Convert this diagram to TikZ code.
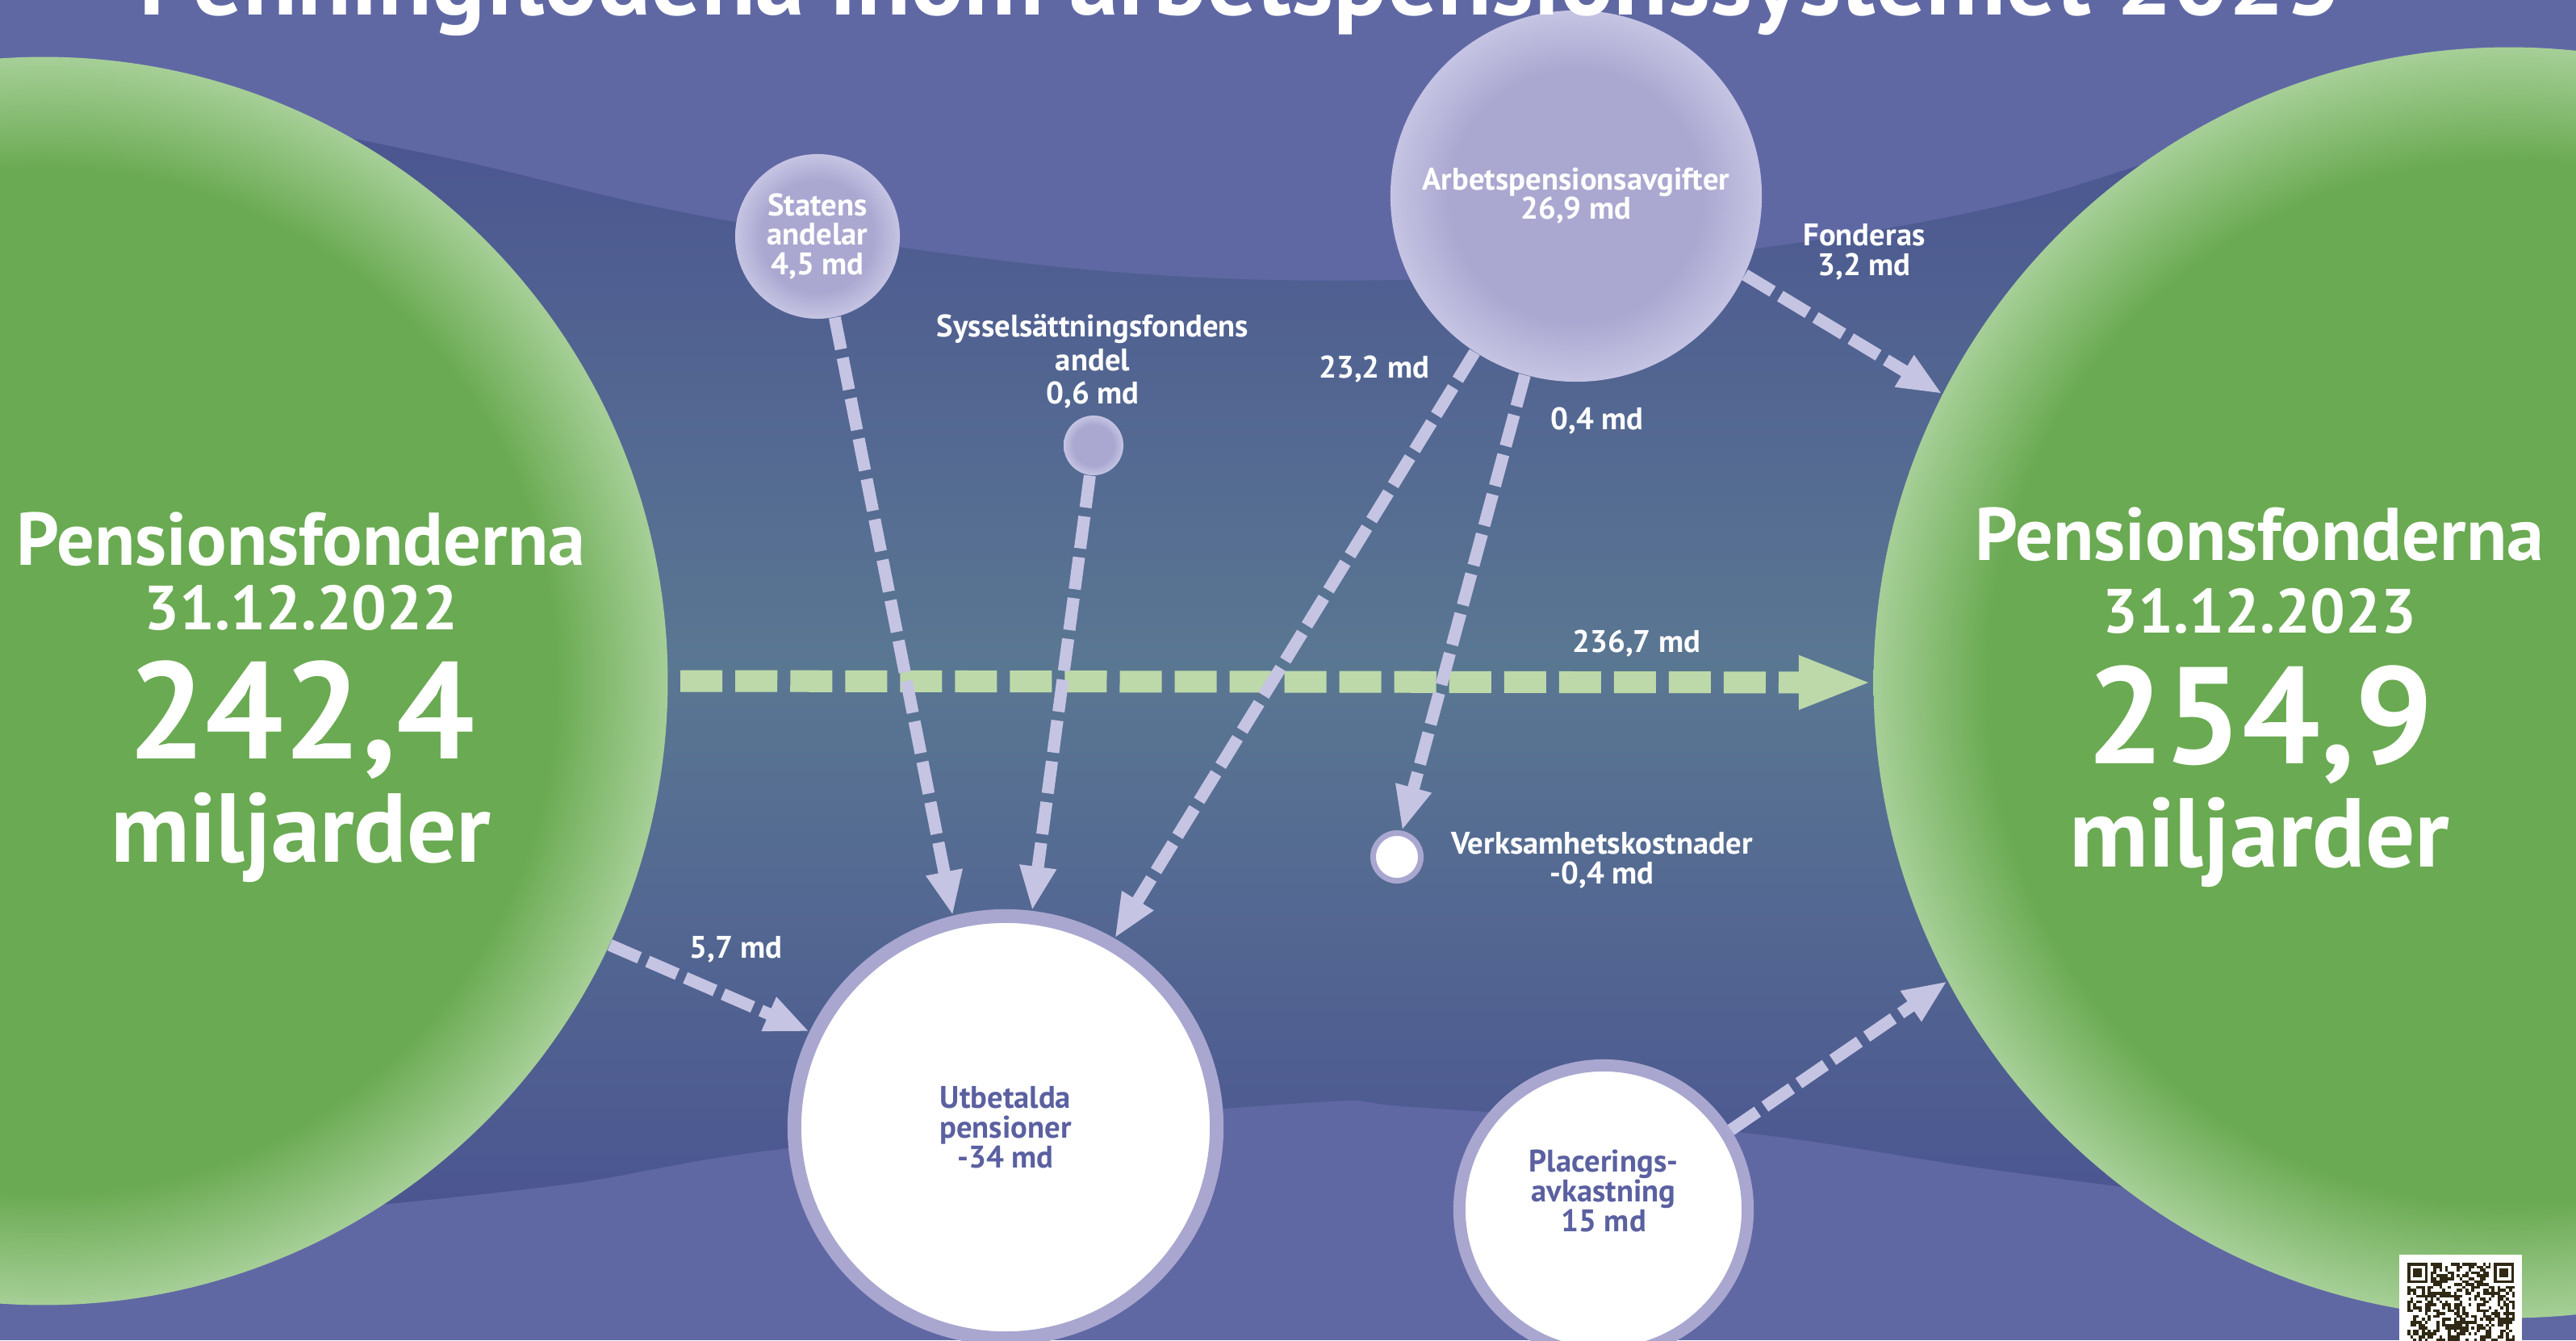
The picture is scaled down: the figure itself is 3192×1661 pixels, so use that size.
\documentclass[tikz,border=0pt]{standalone}
\usepackage{fontspec}
\setmainfont{PT Sans}
\usetikzlibrary{arrows.meta}

\definecolor{bglight}{HTML}{6068A4}
\definecolor{bandtop}{HTML}{4B5591}
\definecolor{bandmid}{HTML}{5A7792}
\definecolor{gdark}{HTML}{6AAA52}
\definecolor{glight}{HTML}{A6CF97}
\definecolor{lavc}{HTML}{AAA8D0}
\definecolor{lavr}{HTML}{C6C4E3}
\definecolor{ringc}{HTML}{A9A7CF}
\definecolor{flowc}{HTML}{C6C4E3}
\definecolor{gflowc}{HTML}{BDD9A9}
\definecolor{txtblue}{HTML}{5A60A0}
\definecolor{qrdark}{HTML}{2F2915}

\pgfdeclareradialshading{greenball}{\pgfpoint{0bp}{0bp}}{color(0bp)=(gdark); color(20.5bp)=(gdark); color(25bp)=(glight); color(50bp)=(glight)}
\pgfdeclareradialshading{lavball}{\pgfpoint{0bp}{0bp}}{color(0bp)=(lavc); color(17bp)=(lavc); color(25bp)=(lavr); color(50bp)=(lavr)}

\begin{document}
\begin{tikzpicture}[x=0.01cm,y=-0.01cm]
\tikzstyle{flow} = [draw=flowc, line width=0.15cm, dash pattern=on 0.4cm off 0.11cm, -{Triangle[length=0.55cm,width=0.42cm]}]
\tikzstyle{mainflow} = [draw=gflowc, line width=0.27cm, dash pattern=on 0.52cm off 0.16cm, -{Triangle[length=0.92cm,width=0.6cm]}]
\tikzstyle{fund} = [circle, shade, shading=greenball, inner sep=0]
\tikzstyle{src} = [circle, shade, shading=lavball, inner sep=0, text=white, align=center, font=\bfseries\fontsize{11}{10.3}\selectfont]
\tikzstyle{sink} = [circle, fill=white, draw=ringc, inner sep=0]
\tikzstyle{lbl} = [text=white, align=center, font=\bfseries\fontsize{11}{10.5}\selectfont]
\tikzstyle{lblb} = [text=txtblue, align=center, font=\bfseries\fontsize{11}{10.5}\selectfont]
\tikzstyle{big} = [text=white, inner sep=0, font=\bfseries\fontsize{26.3}{26}\selectfont]
\tikzstyle{datum} = [text=white, inner sep=0, font=\bfseries\fontsize{22}{22}\selectfont]
\tikzstyle{num} = [text=white, inner sep=0, text depth=0pt, font=\bfseries\fontsize{48.5}{48}\selectfont]
\tikzstyle{mrd} = [text=white, inner sep=0, font=\bfseries\fontsize{34.5}{34}\selectfont]
\useasboundingbox (0,0) rectangle (3192,1661);
\clip (0,0) rectangle (3192,1661);
\fill[bglight] (0,0) rectangle (3192,1661);
\path[top color=bandtop, bottom color=bandtop, middle color=bandmid] plot[smooth, tension=0.6] coordinates {(330,150) (574,200) (900,273) (1380,337) (1800,345) (2177,308) (2500,250) (2750,170)} -- plot[smooth, tension=0.6] coordinates {(2700,1480) (2450,1447) (2152,1403) (1750,1372) (1600,1368) (987,1422) (700,1468) (400,1500)} -- cycle;
\node[fund, minimum size=15.46cm] (lfund) at (54,844) {};
\node[fund, minimum size=15.74cm] (rfund) at (3109,846) {};
\node[sink, line width=0.17cm, minimum size=5.23cm] (utbet) at (1246,1397) {};
\node[sink, line width=0.15cm, minimum size=3.57cm] (plac) at (1987,1499) {};
\node[sink, line width=0.07cm, minimum size=0.59cm] (verks) at (1731,1062) {};
\node[src, minimum size=4.6cm] (avgift) at (1953,243) {Arbetspensionsavgifter\\26,9 md};
\node[src, minimum size=2.04cm] (statens) at (1013,293) {Statens\\andelar\\4,5 md};
\node[src, minimum size=0.74cm] (syssel) at (1355,552) {};
\draw[mainflow, shorten <=0.15cm] (lfund.east) -- (rfund.west);
\draw[flow] (statens.-78) -- (utbet.104);
\draw[flow] (syssel.-97) -- (utbet.83);
\draw[flow] (avgift.-123) -- (utbet.60);
\draw[flow] (avgift.-106) -- (verks.79);
\draw[flow] (avgift.-25) -- (rfund.153);
\draw[flow] (lfund.-25) -- (utbet.154);
\draw[flow] (plac.32) -- (rfund.208);
\node[lblb] (tutbet) at (1246,1397) {Utbetalda\\pensioner\\-34 md};
\node[lblb] (tplac) at (1987,1476) {Placerings-\\avkastning\\15 md};
\node[lbl, font=\bfseries\fontsize{11}{11.7}\selectfont] (tsyssel) at (1354,448) {Sysselsättningsfondens\\andel\\0,6 md};
\node[lbl, anchor=west] (tverks) at (1786,1066) {Verksamhetskostnader\\-0,4 md};
\node[lbl] (t57) at (912,1177) {5,7 md};
\node[lbl] (t232) at (1703,458) {23,2 md};
\node[lbl] (t04) at (1979,522) {0,4 md};
\node[lbl] (tfond) at (2310,312) {Fonderas\\3,2 md};
\node[lbl] (t2367) at (2028,798) {236,7 md};
\node[big] (lpens) at (373,668) {Pensionsfonderna};
\node[datum] (ldate) at (373,753) {31.12.2022};
\node[num] (lsum) at (373,880) {242,4};
\node[mrd] (lunit) at (373,1038) {miljarder};
\node[big] (rpens) at (2800,662) {Pensionsfonderna};
\node[datum] (rdate) at (2800,757) {31.12.2023};
\node[num] (rsum) at (2800,886) {254,9};
\node[mrd] (runit) at (2800,1044) {miljarder};
\node[text=white, anchor=base, font=\bfseries\fontsize{35}{35}\selectfont] (ttl) at (1537,19) {Penningflödena inom arbetspensionssystemet 2023};
\fill[white] (2973,1555) rectangle (3125,1670);
\pgfmathsetseed{42}
\foreach \i in {0,...,36}
  \foreach \j in {0,...,27}
  {
    \pgfmathtruncatemacro{\bit}{round(rnd)}
    \ifnum\bit=1
      \fill[qrdark] (2983+\i*3.6,1565+\j*3.6) rectangle +(3.6,3.6);
    \fi
  }
\foreach \fx in {2983,3090}
{
  \fill[white] (\fx-3.6,1561.4) rectangle +(32.4,32.4);
  \fill[qrdark] (\fx,1565) rectangle +(25.2,25.2);
  \fill[white] (\fx+3.6,1568.6) rectangle +(18,18);
  \fill[qrdark] (\fx+7.2,1572.2) rectangle +(10.8,10.8);
}
\end{tikzpicture}
\end{document}
